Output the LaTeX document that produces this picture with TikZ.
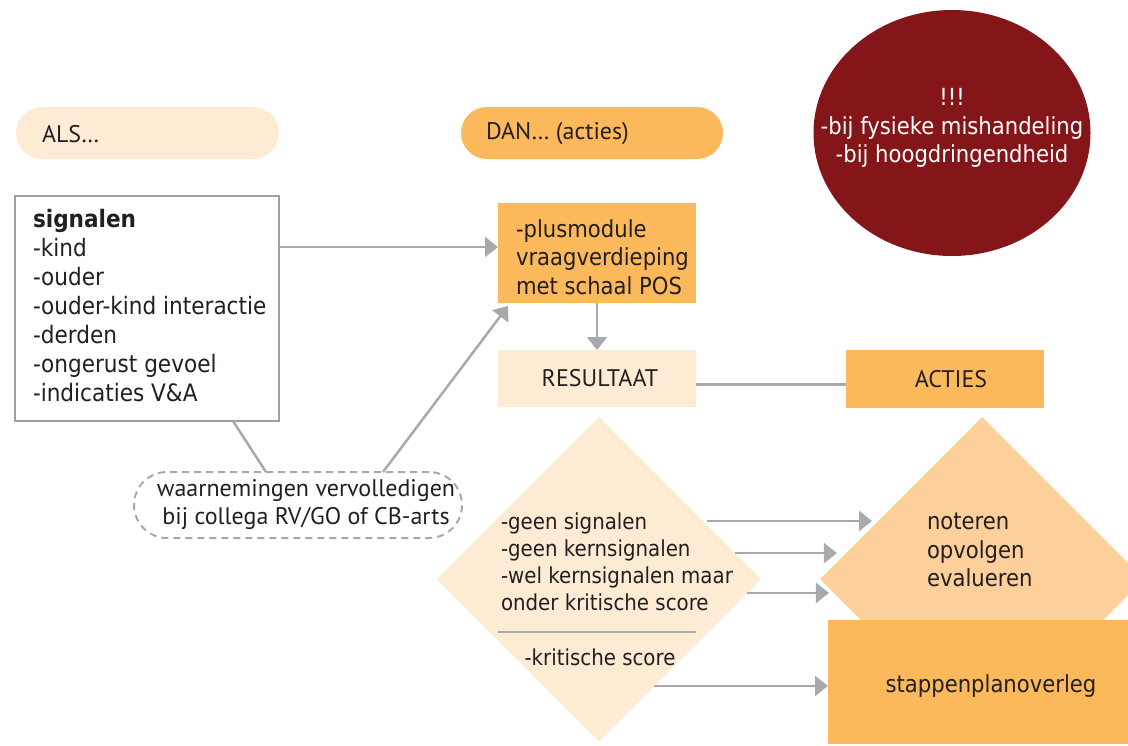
\documentclass[tikz,border=0pt]{standalone}
\usepackage{fontspec}
\setmainfont{DejaVu Sans}[FakeStretch=0.9]
\newfontfamily\myriadlike{PT Sans}
\usetikzlibrary{arrows.meta,shapes.geometric,calc}

\definecolor{boxorange}{HTML}{FBB95C}
\definecolor{boxcream}{HTML}{FDEBD3}
\definecolor{boxpeach}{HTML}{FCCF9B}
\definecolor{alarmred}{HTML}{84161A}
\definecolor{linegray}{HTML}{A7A9AC}
\definecolor{framegray}{HTML}{A0A0A0}
\definecolor{inkdark}{HTML}{231F20}

\begin{document}
\begin{tikzpicture}[x=1pt, y=-1pt,
  every node/.style={text=inkdark, inner sep=0pt, outer sep=0pt},
  tfont/.style={font=\fontsize{23.5}{28.5}\selectfont},
  sfont/.style={font=\fontsize{24}{29}\selectfont},
  dfont/.style={font=\fontsize{22}{27}\selectfont},
  mfont/.style={font=\myriadlike\fontsize{24}{28}\selectfont},
  pill/.style={rectangle, rounded corners=26pt},
  arr/.style={draw=linegray, line width=2.5pt, -{Triangle[length=13pt,width=20pt]}},
  conn/.style={draw=linegray, line width=2.5pt},
  sepline/.style={draw=linegray, line width=2.2pt},
  ]
\useasboundingbox (0,0) rectangle (1128,745);
\clip (0,0) rectangle (1128,745);

% column headers
\node[pill, fill=boxcream, minimum width=263, minimum height=52] (als) at (147.5,133) {};
\node[mfont, anchor=west] (alstxt) at ($(als.west)+(26,1)$) {ALS…};
\node[pill, fill=boxorange, minimum width=262, minimum height=52] (dan) at (592,133) {};
\node[mfont, anchor=west] (dantxt) at ($(dan.west)+(25,1)$) {DAN… (acties)};

% urgent cases
\node[ellipse, fill=alarmred, minimum width=277, minimum height=246] (alarm) at (952,133) {};
\node[tfont, text=white, align=center] (alarmtxt) at ($(alarm.center)+(0,-5)$)
  {!!!\\-bij fysieke mishandeling\\-bij hoogdringendheid};

% signals
\node[draw=framegray, line width=2pt, fill=white, minimum width=264, minimum height=225] (sig) at (147,308.5) {};
\node[sfont, align=left, anchor=west] (sigtxt) at ($(sig.west)+(18,-3)$)
  {\textbf{signalen}\\-kind\\-ouder\\-ouder-kind interactie\\-derden\\-ongerust gevoel\\-indicaties V\&A};

% module and result
\node[fill=boxorange, minimum width=198, minimum height=100] (plus) at (597,253) {};
\node[tfont, align=left, anchor=west] (plustxt) at ($(plus.west)+(18,4)$)
  {-plusmodule\\vraagverdieping\\met schaal POS};
\node[fill=boxcream, minimum width=198, minimum height=57] (res) at (597,378.5) {};
\node[mfont] (restxt) at ($(res.center)+(3,0)$) {RESULTAAT};
\node[fill=boxorange, minimum width=198, minimum height=58] (acties) at (945,379) {};
\node[mfont] (actiestxt) at ($(acties.center)+(6,0)$) {ACTIES};

% decision diamonds
\node[diamond, aspect=1, fill=boxcream, minimum width=324, minimum height=324] (d1) at (599,579) {};
\node[diamond, aspect=1, fill=boxpeach, minimum width=324, minimum height=324] (d2) at (982,579) {};
\node[fill=boxorange, minimum width=326, minimum height=124] (stap) at (991,682) {};
\node[tfont] (staptxt) at ($(stap.center)+(0,4)$) {stappenplanoverleg};

\node[dfont, align=left, anchor=west] (d1txt) at ($(d1.center)+(-98,-17)$)
  {-geen signalen\\-geen kernsignalen\\-wel kernsignalen maar\\onder kritische score};
\node[dfont] (d1crit) at ($(d1.center)+(1,78)$) {-kritische score};
\draw[sepline] ($(d1.center)+(-101,53)$) -- ($(d1.center)+(97,53)$);
\node[tfont, align=left, anchor=west] (d2txt) at ($(d2.center)+(-55,-29)$)
  {noteren\\opvolgen\\evalueren};

% observations
\node[draw=linegray, line width=2pt, dash pattern=on 7pt off 5pt, rounded corners=33pt,
  minimum width=328, minimum height=66] (obs) at (298,505) {};
\node[mfont, align=center] (obstxt) at ($(obs.center)+(8,0)$)
  {waarnemingen vervolledigen\\bij collega RV/GO of CB-arts};

% connectors
\path ($(sig.north east)+(0,51)$) coordinate (sigout);
\draw[arr] (sigout) -- (plus.west |- sigout);
\draw[arr] (plus.south) -- (res.north);
\draw[conn] ($(sig.south east)+(-46,0)$) -- ($(obs.north)+(-32,0)$);
\draw[arr] ($(obs.north)+(85,0)$) -- ($(plus.south west)+(10,3)$);
\path ($(res.east)+(0,6)$) coordinate (resout);
\draw[conn] (resout) -- (acties.west |- resout);

\path ($(d1.east)!0.358!(d1.north)$) coordinate (o1);
\draw[arr, shorten <=4pt, shorten >=6pt] (o1) -- ($(d2.west)!0.358!(d2.north)$);
\path ($(d1.east)!0.16!(d1.north)$) coordinate (o2);
\draw[arr, shorten >=9pt] (o2) -- ($(d2.west)!0.16!(d2.north)$);
\path ($(d1.east)!0.086!(d1.south)$) coordinate (o3);
\draw[arr, shorten >=5pt] (o3) -- ($(d2.west)!0.086!(d2.south)$);
\path ($(d1.east)!0.66!(d1.south)$) coordinate (o4);
\draw[arr] (o4) -- (stap.west |- o4);
\end{tikzpicture}
\end{document}
